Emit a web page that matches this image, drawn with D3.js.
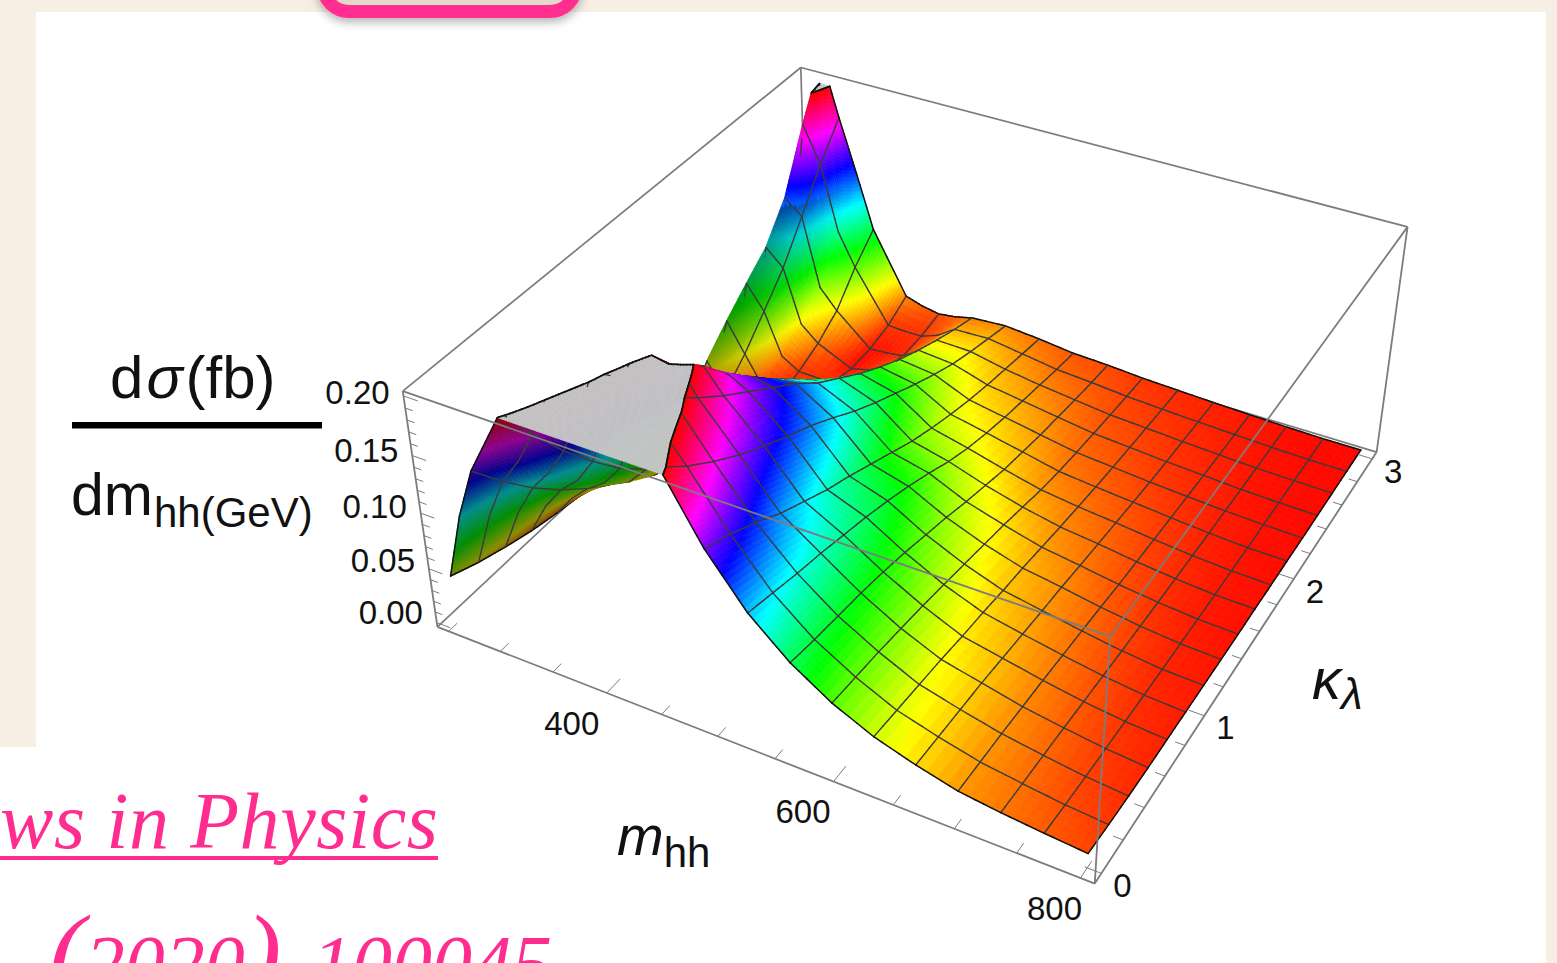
<!DOCTYPE html>
<html>
<head>
<meta charset="utf-8">
<script src="https://cdn.jsdelivr.net/npm/d3@7"></script>
<style>
    body { margin: 0; background: #f7efe4; overflow: hidden; }
    svg { display: block; }
    text { font-family: "Liberation Sans", Arial, sans-serif; fill: #111; }
    .pink { font-family: "Liberation Serif", serif; font-style: italic; fill: #ff2d8f; }
</style>
</head>
<body>
<div id="plot"></div>
<script>
// Grid of the surface
const massValues = [250, 267.2, 284.4, 301.6, 318.75, 353.1, 370.3, 387.5, 404.7, 421.9, 456.25, 490.6, 525, 559.4, 593.75, 628.1, 662.5, 696.9, 731.25, 765.6, 800];
const meshMasses = [284.4, 318.75, 353.1, 387.5, 421.9, 456.25, 490.6, 525, 559.4, 593.75, 628.1, 662.5, 696.9, 731.25, 765.6];
const kappaValues = [0, 0.1875, 0.375, 0.5625, 0.75, 0.9375, 1.125, 1.3125, 1.5, 1.6875, 1.875, 2.0625, 2.25, 2.4375, 2.625, 2.8125, 3];

// dsigma/dm in fb/GeV, one row per mass in massValues
const dSigma = [
    [.040,.030,.022,.015,.010,.006,.003,.001,.000,.000,.001,.003,.006,.011,.018,.028,.040],
    [.100,.079,.060,.044,.030,.019,.010,.004,.001,.008,.040,.060,.078,.095,.125,.178,.225],
    [.145,.115,.088,.065,.045,.028,.016,.006,.002,.005,.014,.033,.056,.080,.112,.145,.173],
    [.175,.138,.107,.079,.056,.036,.021,.010,.003,.000,.001,.007,.017,.030,.048,.085,.125],
    [.205,.167,.132,.102,.075,.053,.034,.020,.009,.003,.000,.001,.007,.016,.030,.055,.075],
    [.270,.245,.210,.185,.160,.135,.112,.088,.066,.046,.029,.015,.006,.001,.002,.007,.018],
    [.290,.260,.235,.215,.185,.155,.125,.105,.086,.065,.045,.027,.013,.005,.003,.006,.013],
    [.310,.280,.250,.212,.182,.165,.140,.118,.098,.078,.058,.040,.024,.012,.005,.006,.010],
    [.290,.265,.235,.214,.192,.165,.144,.122,.100,.082,.066,.050,.035,.024,.016,.012,.012],
    [.245,.225,.210,.190,.172,.156,.140,.124,.105,.090,.075,.062,.050,.040,.031,.023,.016],
    [.205,.185,.168,.153,.140,.128,.117,.104,.090,.078,.067,.056,.046,.037,.030,.024,.018],
    [.150,.140,.128,.114,.103,.092,.083,.073,.063,.053,.045,.038,.032,.027,.023,.019,.015],
    [.108,.102,.096,.091,.085,.079,.072,.064,.055,.045,.037,.031,.026,.022,.018,.014,.011],
    [.078,.074,.071,.068,.064,.059,.053,.047,.040,.034,.028,.024,.020,.017,.014,.0115,.0095],
    [.056,.054,.052,.049,.046,.042,.038,.034,.030,.025,.020,.0165,.014,.012,.010,.0085,.007],
    [.040,.038,.036,.034,.031,.029,.026,.024,.021,.018,.0155,.013,.011,.0095,.008,.0065,.0055],
    [.029,.028,.027,.026,.024,.022,.020,.0185,.016,.014,.012,.010,.008,.0068,.0058,.0048,.004],
    [.020,.0195,.019,.018,.017,.0155,.014,.0125,.0105,.0092,.008,.0068,.0056,.0048,.004,.0034,.0028],
    [.0155,.0145,.0135,.0125,.011,.0098,.0085,.0075,.0063,.0055,.0048,.004,.0034,.0028,.0024,.002,.0017],
    [.012,.010,.0085,.0075,.0065,.0055,.0045,.004,.0032,.0028,.0025,.002,.002,.0015,.0015,.001,.001],
    [.009,.007,.0055,.0045,.004,.0035,.003,.0025,.002,.002,.0015,.0015,.001,.001,.001,.001,.001]
];

// Tick values
const massTicks = d3.range(250, 801, 50);
const massLabels = [400, 600, 800];
const kappaTicks = d3.range(0, 3.01, 0.2);
const kappaLabels = [0, 1, 2, 3];
const sigmaTicks = d3.range(0, 0.2001, 0.01);
const sigmaLabels = [0, 0.05, 0.1, 0.15, 0.2];

const zClip = 0.2;
const lineSteps = 5;

// Where the eight corners of the plot box land on the page
const boxCorners = [
    [0, 0, 0, 438, 627], [1, 0, 0, 1095, 883], [1, 1, 0, 1377, 453], [0, 1, 0, 806, 280],
    [0, 0, 1, 402, 391], [1, 0, 1, 1110, 637], [1, 1, 1, 1407, 226], [0, 1, 1, 802, 68]
];

const mScale = d3.scaleLinear().domain([239, 811]).range([0, 1]);
const kScale = d3.scaleLinear().domain([-0.06, 3.06]).range([0, 1]);
const zScale = d3.scaleLinear().domain([-0.004, 0.204]).range([0, 1]);
const hueScale = d3.scaleLinear().domain([0, zClip]).range([0, 360]).clamp(true);
// The left flank of the peak sits in shadow
const flankShade = d3.scaleLinear().domain([267, 301]).range([0.62, 1]).clamp(true);

// Least squares fit of the 3x4 camera matrix to the corners
function fitCamera(corners) {
    const A = d3.range(11).map(() => d3.range(12).fill(0));
    corners.forEach(([u, v, w, x, y]) => {
        [[u, v, w, 1, 0, 0, 0, 0, -x * u, -x * v, -x * w, x],
         [0, 0, 0, 0, u, v, w, 1, -y * u, -y * v, -y * w, y]].forEach(row => {
            for (let i = 0; i < 11; i++) {
                for (let j = 0; j < 12; j++) A[i][j] += row[i] * row[j];
            }
        });
    });
    for (let i = 0; i < 11; i++) {
        let best = i;
        for (let r = i + 1; r < 11; r++) if (Math.abs(A[r][i]) > Math.abs(A[best][i])) best = r;
        [A[i], A[best]] = [A[best], A[i]];
        for (let r = 0; r < 11; r++) {
            if (r === i) continue;
            const f = A[r][i] / A[i][i];
            for (let j = i; j < 12; j++) A[r][j] -= f * A[i][j];
        }
    }
    return A.map((row, i) => row[11] / row[i]);
}
const cam = fitCamera(boxCorners);

function depthOf(p) {
    const u = mScale(p[0]), v = kScale(p[1]), w = zScale(p[2]);
    return cam[8] * u + cam[9] * v + cam[10] * w + 1;
}
function project(p) {
    const u = mScale(p[0]), v = kScale(p[1]), w = zScale(p[2]);
    const h = cam[8] * u + cam[9] * v + cam[10] * w + 1;
    return [(cam[0] * u + cam[1] * v + cam[2] * w + cam[3]) / h,
            (cam[4] * u + cam[5] * v + cam[6] * w + cam[7]) / h];
}

// Far corner has to be painted first
const mMin = mScale.domain()[0], mMax = mScale.domain()[1];
const kMin = kScale.domain()[0], kMax = kScale.domain()[1];
const zMin = zScale.domain()[0], zMax = zScale.domain()[1];
const depthFar = depthOf([mMin, kMax, zMin]);
const depthNear = depthOf([mMax, kMin, zMax]);
const depthSign = depthFar > depthNear ? 1 : -1;
const lineBias = Math.abs(depthFar - depthNear) / 100;

const pathOf = d3.line();
const svg = d3.select("#plot").append("svg").attr("width", 1557).attr("height", 963);

// Page background bits
svg.append("rect").attr("x", 36).attr("y", 12).attr("width", 1510).attr("height", 951).attr("fill", "#fff");
svg.append("rect").attr("x", 0).attr("y", 747).attr("width", 1546).attr("height", 216).attr("fill", "#fff");

const shadow = svg.append("defs").append("filter").attr("id", "shadow")
    .attr("x", "-10%").attr("y", "-10%").attr("width", "120%").attr("height", "140%");
shadow.append("feDropShadow").attr("dx", 0).attr("dy", 4).attr("stdDeviation", 5)
    .attr("flood-color", "#000").attr("flood-opacity", 0.3);
svg.append("rect").attr("x", 323).attr("y", -60).attr("width", 253).attr("height", 71.5).attr("rx", 26)
    .attr("fill", "#e3d9ca").attr("stroke", "#ff2d8f").attr("stroke-width", 13).attr("filter", "url(#shadow)");

const boxColor = "#7c7c7c";
function boxLine(g, a, b, width) {
    g.append("path").attr("d", pathOf([project(a), project(b)]))
        .attr("fill", "none").attr("stroke", boxColor).attr("stroke-width", width);
}

// Back edges go under the surface
const back = svg.append("g");
boxLine(back, [mMin, kMax, zMax], [mMin, kMin, zMax], 1.7);
boxLine(back, [mMin, kMax, zMax], [mMax, kMax, zMax], 1.7);
boxLine(back, [mMin, kMax, zMax], [mMin, kMax, zMin], 1.7);
boxLine(back, [mMin, kMin, zMin], [mMin, kMax, zMin], 1.7);
boxLine(back, [mMin, kMax, zMin], [mMax, kMax, zMin], 1.7);

function lerp(a, b, t) {
    return a.map((v, i) => v + (b[i] - v) * t);
}

// Cut a polygon at z = zClip, also gives the cut line
function clipPoly(poly, keep) {
    const out = [], cut = [];
    poly.forEach((p, i) => {
        const q = poly[(i + 1) % poly.length];
        const pIn = keep(p[2]), qIn = keep(q[2]);
        if (pIn) out.push(p);
        if (pIn !== qIn) {
            const c = lerp(p, q, (zClip - p[2]) / (q[2] - p[2]));
            out.push(c);
            cut.push(c);
        }
    });
    return { out, cut };
}

function shadeOf(c) {
    // Top of the peak stays bright, only the lower flank is dark
    const climbsBack = c[3][2] + c[2][2] > c[0][2] + c[1][2];
    const low = d3.mean(c, p => p[2]) < 0.12;
    return climbsBack && low ? flankShade(d3.mean(c, p => p[0])) : 1;
}

const items = [];
function addLine(a, b, stroke, width) {
    // Skip the part of a line that sits above the cut
    let p = a, q = b;
    if (p[2] > zClip && q[2] > zClip) return;
    if (p[2] > zClip) p = lerp(q, p, (zClip - q[2]) / (p[2] - q[2]));
    else if (q[2] > zClip) q = lerp(p, q, (zClip - p[2]) / (q[2] - p[2]));
    const mid = lerp(p, q, 0.5);
    items.push({
        d: pathOf([project(p), project(q)]), fill: "none", stroke, width,
        depth: depthSign * depthOf(mid) - lineBias
    });
}

function addFill(poly, fill) {
    if (poly.length < 3) return;
    items.push({
        d: pathOf(poly.map(project)) + "Z", fill, stroke: fill, width: 0.7,
        depth: depthSign * d3.mean(poly, depthOf)
    });
}

const nm = massValues.length, nk = kappaValues.length;
const surface = (i, j, s, t) => {
    const i2 = Math.min(i + 1, nm - 1), j2 = Math.min(j + 1, nk - 1);
    const z0 = dSigma[i][j] + (dSigma[i][j2] - dSigma[i][j]) * t;
    const z1 = dSigma[i2][j] + (dSigma[i2][j2] - dSigma[i2][j]) * t;
    return [massValues[i] + (massValues[i2] - massValues[i]) * s,
            kappaValues[j] + (kappaValues[j2] - kappaValues[j]) * t,
            z0 + (z1 - z0) * s];
};

for (let i = 0; i < nm - 1; i++) {
    for (let j = 0; j < nk - 1; j++) {
        // Steep cells need more pieces or the colours show steps
        const corners = [dSigma[i][j], dSigma[i + 1][j], dSigma[i][j + 1], dSigma[i + 1][j + 1]];
        const n = Math.max(4, Math.min(16, Math.ceil((d3.max(corners) - d3.min(corners)) / 0.004)));
        for (let a = 0; a < n; a++) {
            for (let b = 0; b < n; b++) {
                const c = [
                    surface(i, j, a / n, b / n),
                    surface(i, j, (a + 1) / n, b / n),
                    surface(i, j, (a + 1) / n, (b + 1) / n),
                    surface(i, j, a / n, (b + 1) / n)
                ];
                const area = d3.polygonArea(c.map(project));
                const zc = d3.mean(c, p => p[2]);
                const hsl = d3.hsl(hueScale(zc), 1, 0.5).rgb();
                // Seen from below the surface gets much darker
                const f = area < 0 ? 0.55 : shadeOf(c);
                const fill = d3.rgb(hsl.r * f, hsl.g * f, hsl.b * f).formatHex();

                const below = clipPoly(c, z => z <= zClip);
                addFill(below.out, fill);
                const above = clipPoly(c, z => z > zClip);
                addFill(above.out.map(p => [p[0], p[1], zClip]), "#c6c6c6");
                if (below.cut.length === 2) addLine(below.cut[0], below.cut[1], "#111", 1.7);
            }
        }
    }
}

// Mesh lines and outer edge of the surface
const meshColor = "#3c3c3c", edgeColor = "#111";
massValues.forEach((m, i) => {
    const edge = i === 0 || i === nm - 1;
    if (!edge && !meshMasses.includes(m)) return;
    for (let j = 0; j < nk - 1; j++) {
        for (let b = 0; b < lineSteps; b++) {
            addLine(surface(i, j, 0, b / lineSteps), surface(i, j, 0, (b + 1) / lineSteps),
                edge ? edgeColor : meshColor, edge ? 1.5 : 1.4);
        }
    }
});
kappaValues.forEach((k, j) => {
    const edge = j === 0 || j === nk - 1;
    for (let i = 0; i < nm - 1; i++) {
        for (let a = 0; a < lineSteps; a++) {
            addLine(surface(i, j, a / lineSteps, 0), surface(i, j, (a + 1) / lineSteps, 0),
                edge ? edgeColor : meshColor, edge ? 1.5 : 1.4);
        }
    }
});

items.sort((a, b) => d3.descending(a.depth, b.depth));

svg.append("g").selectAll("path")
    .data(items)
    .join("path")
    .attr("d", d => d.d)
    .attr("fill", d => d.fill)
    .attr("stroke", d => d.stroke)
    .attr("stroke-width", d => d.width)
    .attr("stroke-linecap", "round");

// Front edges and axes on top
const front = svg.append("g");
boxLine(front, [mMin, kMin, zMax], [mMax, kMin, zMax], 1.8);
boxLine(front, [mMax, kMin, zMax], [mMax, kMax, zMax], 1.8);
boxLine(front, [mMax, kMin, zMax], [mMax, kMin, zMin], 1.8);
boxLine(front, [mMax, kMax, zMax], [mMax, kMax, zMin], 1.8);
boxLine(front, [mMin, kMin, zMax], [mMin, kMin, zMin], 1.8);
boxLine(front, [mMin, kMin, zMin], [mMax, kMin, zMin], 1.8);
boxLine(front, [mMax, kMin, zMin], [mMax, kMax, zMin], 1.8);

sigmaTicks.forEach(z => {
    const major = sigmaLabels.some(l => Math.abs(l - z) < 1e-6);
    boxLine(front, [mMin, kMin, z], [mMin + (major ? 13 : 7), kMin, z], 1);
});
massTicks.forEach(m => {
    boxLine(front, [m, kMin, zMin], [m, kMin + (massLabels.includes(m) ? 0.1 : 0.06), zMin], 1);
});
kappaTicks.forEach(k => {
    const major = kappaLabels.some(l => Math.abs(l - k) < 1e-6);
    boxLine(front, [mMax, k, zMin], [mMax - (major ? 13 : 8), k, zMin], 1);
});

function tickLabel(pos, dx, dy, txt) {
    const p = project(pos);
    svg.append("text").attr("x", p[0] + dx).attr("y", p[1] + dy)
        .attr("text-anchor", "middle").attr("dominant-baseline", "middle")
        .style("font-size", "33px").text(txt);
}
sigmaLabels.forEach(z => tickLabel([mMin, kMin, z], -46, -7 + z * 30, z.toFixed(2)));
massLabels.forEach(m => tickLabel([m, kMin, zMin], -35 + (m - 400) * 0.0225, 33, m));
kappaLabels.forEach(k => tickLabel([mMax, k, zMin], 21, 15, k));

// Axis titles
const mTitle = svg.append("text").attr("x", 617).attr("y", 855);
mTitle.append("tspan").style("font-size", "56px").style("font-style", "italic").text("m");
mTitle.append("tspan").attr("dy", 12).style("font-size", "42px").text("hh");

const kTitle = svg.append("text").attr("x", 1312).attr("y", 699);
kTitle.append("tspan").style("font-size", "58px").style("font-style", "italic").text("κ");
kTitle.append("tspan").attr("dy", 10).style("font-size", "44px").style("font-style", "italic").text("λ");

const fracTop = svg.append("text").attr("x", 110).attr("y", 398).style("font-size", "60px");
fracTop.append("tspan").text("d");
fracTop.append("tspan").attr("dx", 3).style("font-style", "italic").text("σ");
fracTop.append("tspan").attr("dx", 3).text("(fb)");

svg.append("rect").attr("x", 72).attr("y", 422).attr("width", 250).attr("height", 6.5).attr("fill", "#000");

const fracBottom = svg.append("text").attr("x", 71).attr("y", 515).style("font-size", "59px");
fracBottom.append("tspan").text("dm");
fracBottom.append("tspan").attr("dy", 12).attr("dx", 1).style("font-size", "42px").text("hh(GeV)");

// Pink citation under the plot
svg.append("text").attr("class", "pink").attr("x", 0).attr("y", 848)
    .attr("textLength", 438).style("font-size", "80px").text("ws in Physics");
svg.append("rect").attr("x", 0).attr("y", 856).attr("width", 438).attr("height", 4).attr("fill", "#ff2d8f");

const year = svg.append("text").attr("class", "pink").attr("x", 48).attr("y", 991).style("font-size", "80px");
year.append("tspan").style("font-size", "110px").text("(");
year.append("tspan").text("2020");
year.append("tspan").style("font-size", "110px").text(")");
svg.append("text").attr("class", "pink").attr("x", 552).attr("y", 991).attr("text-anchor", "end")
    .style("font-size", "80px").text("100045");
</script>
</body>
</html>
